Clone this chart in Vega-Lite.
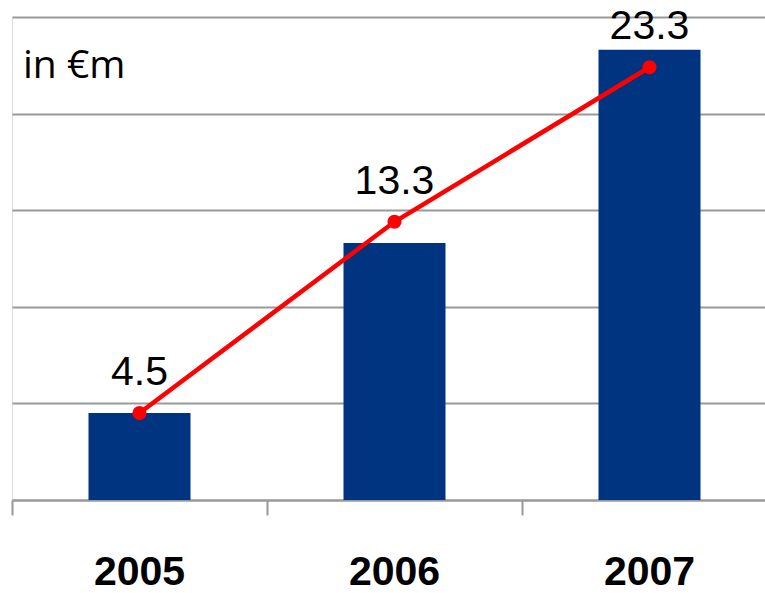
{
  "$schema": "https://vega.github.io/schema/vega-lite/v6.json",
  "width": 753,
  "height": 483,
  "autosize": {"type": "none"},
  "padding": {"left": 12, "top": 17, "right": 0, "bottom": 93},
  "background": "white",
  "title": {
    "text": "in €m",
    "anchor": "start",
    "frame": "group",
    "orient": "top",
    "baseline": "alphabetic",
    "offset": -58,
    "dy": 53,
    "dx": 11,
    "font": "Open Sans",
    "fontSize": 39,
    "fontWeight": "normal",
    "color": "#000000"
  },
  "data": {
    "values": [
      {"year": "2005", "bar": 4.5, "line": 4.5, "label": "4.5"},
      {"year": "2006", "bar": 13.3, "line": 14.4, "label": "13.3"},
      {"year": "2007", "bar": 23.3, "line": 22.4, "label": "23.3"}
    ]
  },
  "encoding": {
    "x": {
      "field": "year",
      "type": "ordinal",
      "scale": {"range": [0, 765], "paddingInner": 0.6, "paddingOuter": 0.3},
      "axis": {
        "title": null,
        "labelAngle": 0,
        "labelFont": "Liberation Sans",
        "labelFontWeight": "bold",
        "labelFontSize": 41,
        "labelColor": "#000000",
        "labelBaseline": "alphabetic",
        "labelPadding": 69,
        "bandPosition": -0.75,
        "tickSize": 15,
        "tickColor": "#999999",
        "tickWidth": 2,
        "domainColor": "#999999",
        "domainWidth": 2,
        "grid": false
      }
    }
  },
  "layer": [
    {
      "mark": {"type": "bar", "color": "#003380"},
      "encoding": {
        "y": {
          "field": "bar",
          "type": "quantitative",
          "scale": {"domain": [0, 25], "nice": false},
          "axis": {
            "title": null,
            "values": [0, 5, 10, 15, 20, 25],
            "labels": false,
            "ticks": false,
            "domain": false,
            "grid": true,
            "gridColor": "#999999",
            "gridWidth": 2
          }
        }
      }
    },
    {
      "mark": {"type": "line", "color": "#ff0000", "strokeWidth": 4.5},
      "encoding": {"y": {"field": "line", "type": "quantitative"}}
    },
    {
      "mark": {"type": "point", "filled": true, "color": "#ff0000", "size": 200, "opacity": 1},
      "encoding": {"y": {"field": "line", "type": "quantitative"}}
    },
    {
      "mark": {"type": "text", "font": "Liberation Sans", "fontSize": 41, "color": "#000000", "baseline": "alphabetic", "dy": -28},
      "encoding": {
        "y": {"field": "line", "type": "quantitative"},
        "text": {"field": "label"}
      }
    }
  ]
}
